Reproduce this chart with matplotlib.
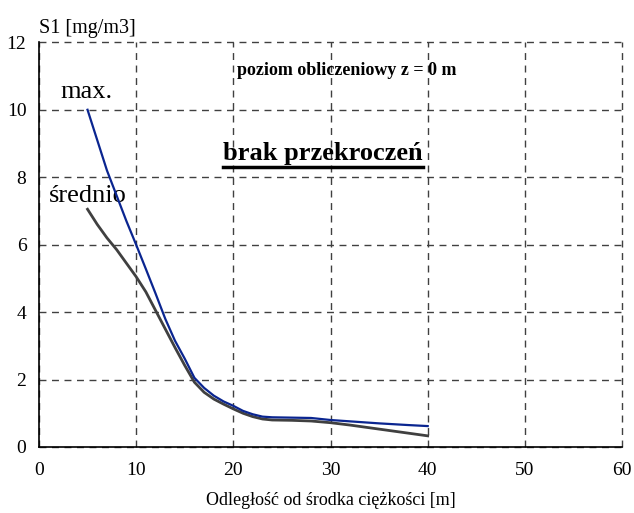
import matplotlib
matplotlib.use("Agg")
import matplotlib.pyplot as plt
from matplotlib.lines import Line2D

plt.rcParams['font.family'] = ['Liberation Serif', 'DejaVu Serif']

x_max = [5, 6, 7, 8, 9, 10, 11, 12, 13, 14, 15, 16, 17, 18, 19, 20, 21, 22, 23, 24, 26, 28, 30, 32, 35, 38, 40]
y_max = [10.0, 9.1, 8.2, 7.45, 6.7, 6.0, 5.28, 4.55, 3.8, 3.15, 2.62, 2.05, 1.75, 1.52, 1.35, 1.22, 1.07, 0.97, 0.9, 0.88, 0.87, 0.86, 0.8, 0.76, 0.7, 0.65, 0.62]

x_avg = [5, 6, 7, 8, 9, 10, 11, 12, 13, 14, 15, 16, 17, 18, 19, 20, 21, 22, 23, 24, 26, 28, 30, 32, 35, 38, 40]
y_avg = [7.05, 6.6, 6.2, 5.85, 5.45, 5.05, 4.6, 4.05, 3.5, 2.95, 2.42, 1.92, 1.62, 1.42, 1.27, 1.13, 1.0, 0.9, 0.83, 0.8, 0.79, 0.77, 0.72, 0.65, 0.53, 0.41, 0.33]

x_ticks = [0, 10, 20, 30, 40, 50, 60]
y_ticks = [0, 2, 4, 6, 8, 10, 12]

fig = plt.figure(figsize=(6.34, 5.13), dpi=100)
ax = fig.add_axes([0.0614, 0.1287, 0.9198, 0.7888])

ax.plot(x_avg, y_avg, color='#404040', lw=2.0, zorder=3, solid_joinstyle='round')
ax.plot(x_max, y_max, color='#0a2590', lw=1.6, zorder=4, solid_joinstyle='round')

ax.set_xlim(0, 60)
ax.set_ylim(0, 12)
ax.set_xticks(x_ticks)
ax.set_yticks(y_ticks)
ax.tick_params(length=0, labelsize=14)
ax.tick_params(axis='x', pad=11)
ax.tick_params(axis='y', pad=9)

ax.grid(True, color='#404040', linestyle=(0, (5, 4)), lw=1.0)
for gl in ax.get_xgridlines() + ax.get_ygridlines():
    gl.set_clip_on(False)
ax.set_axisbelow(True)

for s in ['top', 'right']:
    ax.spines[s].set_visible(False)
ax.spines['left'].set_linewidth(1.2)
ax.spines['bottom'].set_linewidth(1.2)

ax.set_xlabel('Odległość od środka ciężkości [m]', fontsize=13, labelpad=9)
fig.text(0.0614, 1 - 33 / 513, 'S1 [mg/m3]', fontsize=14.5, ha='left', va='baseline')

ax.text(4.9, 10.35, 'max.', fontsize=19, ha='center', va='baseline')
ax.text(5.0, 7.27, 'średnio', fontsize=19, ha='center', va='baseline')
ax.text(31.65, 11.02, 'poziom obliczeniowy z = 0 m', fontsize=13, fontweight='bold',
        ha='center', va='baseline')
t = ax.text(29.2, 8.5, 'brak przekroczeń', fontsize=19, fontweight='bold',
            ha='center', va='baseline')

fig.canvas.draw()
bb = t.get_window_extent().transformed(ax.transData.inverted())
uy = 8.5 - 0.2
ax.add_line(Line2D([bb.x0, bb.x1], [uy, uy], color='black', lw=2.5, zorder=5))

fig.savefig('out.png', dpi=100)
